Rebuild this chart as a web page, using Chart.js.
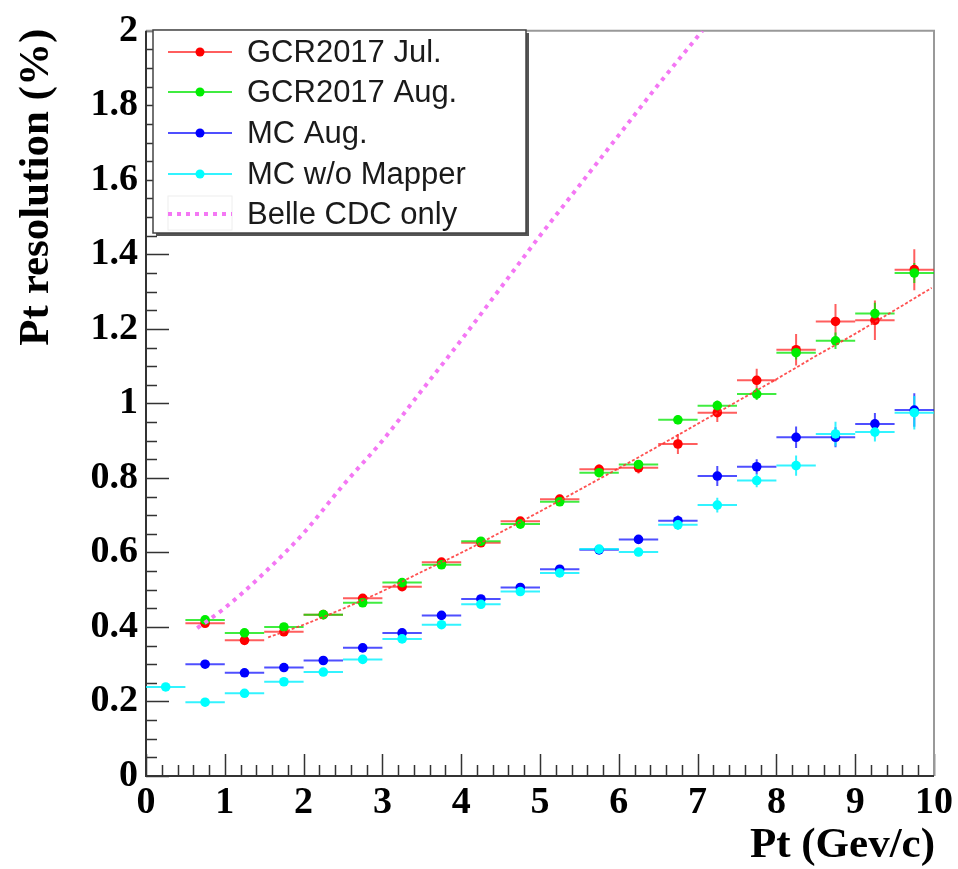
<!DOCTYPE html>
<html>
<head>
<meta charset="utf-8">
<script src="https://cdn.jsdelivr.net/npm/chart.js@4.4.1/dist/chart.umd.min.js"></script>
<style>
  html, body { margin: 0; padding: 0; background: #fff; }
  #wrap { width: 958px; height: 869px; }
</style>
</head>
<body>
<div id="wrap"><canvas id="resChart" width="958" height="869"></canvas></div>
<script>
// bin centres (GeV/c), each bin is 0.5 wide
const ptBins = [0.25, 0.75, 1.25, 1.75, 2.25, 2.75, 3.25, 3.75, 4.25, 4.75,
                5.25, 5.75, 6.25, 6.75, 7.25, 7.75, 8.25, 8.75, 9.25, 9.75];
const binHalfWidth = 0.25;

// resolution (%) per bin, null = no entry
const resJul = [null, 0.410, 0.364, 0.387, 0.433, 0.477, 0.508, 0.574, 0.626, 0.684,
                0.743, 0.823, 0.827, 0.891, 0.975, 1.062, 1.144, 1.220, 1.223, 1.359];
const errJul = [null, 0.008, 0.007, 0.007, 0.007, 0.008, 0.008, 0.009, 0.010, 0.011,
                0.012, 0.013, 0.015, 0.027, 0.025, 0.031, 0.042, 0.047, 0.053, 0.055];

const resAug = [null, 0.419, 0.384, 0.400, 0.433, 0.465, 0.519, 0.567, 0.630, 0.676,
                0.736, 0.814, 0.836, 0.956, 0.994, 1.025, 1.136, 1.168, 1.241, 1.350];
const errAug = [null, 0.005, 0.005, 0.005, 0.005, 0.006, 0.006, 0.007, 0.008, 0.008,
                0.009, 0.010, 0.011, 0.012, 0.014, 0.016, 0.018, 0.022, 0.029, 0.027];

const resMcAug = [null, 0.300, 0.277, 0.291, 0.310, 0.344, 0.384, 0.431, 0.475, 0.506,
                  0.555, 0.607, 0.635, 0.685, 0.805, 0.830, 0.909, 0.909, 0.945, 0.982];
const errMcAug = [null, 0.004, 0.004, 0.004, 0.005, 0.005, 0.006, 0.006, 0.007, 0.008,
                  0.009, 0.010, 0.011, 0.014, 0.027, 0.020, 0.029, 0.027, 0.029, 0.045];

const resMcNoMap = [0.239, 0.198, 0.222, 0.253, 0.279, 0.313, 0.368, 0.406, 0.461, 0.495,
                    0.545, 0.609, 0.601, 0.674, 0.727, 0.793, 0.833, 0.918, 0.923, 0.975];
const errMcNoMap = [0.004, 0.004, 0.004, 0.004, 0.005, 0.005, 0.006, 0.006, 0.007, 0.008,
                    0.009, 0.010, 0.011, 0.013, 0.020, 0.018, 0.027, 0.033, 0.025, 0.045];

// fit to the July data
const ptFit  = [1.55, 2.0, 2.5, 3.0, 3.5, 4.0, 4.5, 5.0, 5.5, 6.0, 6.5, 7.0, 7.5, 8.0, 8.5, 9.0, 9.5, 9.97];
const resFit = [0.372, 0.406, 0.449, 0.496, 0.548, 0.599, 0.654, 0.710, 0.768, 0.826, 0.885,
                0.945, 1.005, 1.065, 1.127, 1.187, 1.250, 1.310];

// Belle CDC reference curve
const ptBelle  = [0.65, 1.0, 1.5, 2.0, 2.5, 3.0, 3.5, 4.0, 4.5, 5.0, 5.5, 6.0, 6.5, 7.06];
const resBelle = [0.397, 0.451, 0.545, 0.652, 0.780, 0.900, 1.035, 1.170, 1.310, 1.450,
                  1.585, 1.720, 1.855, 2.0];

const xTicksMajor = [0, 1, 2, 3, 4, 5, 6, 7, 8, 9, 10];

function toPoints(xs, ys, errs) {
  const pts = [];
  xs.forEach((x, i) => {
    if (ys[i] === null) return;
    pts.push({ x: x, y: ys[i], e: errs ? errs[i] : 0 });
  });
  return pts;
}

const serif = "'Liberation Serif', 'Times New Roman', serif";
const sans = "'Liberation Sans', Arial, sans-serif";

// frame with inward ticks (5 minor per unit on x, 4 minor per 0.2 on y)
const frameTicks = {
  id: 'frameTicks',
  beforeDatasetsDraw(chart) {
    const { ctx, chartArea: a, scales: { x, y } } = chart;
    ctx.save();
    ctx.strokeStyle = '#333';
    ctx.lineWidth = 1.5;
    ctx.beginPath();
    for (let k = 0; k <= 50; k++) {
      const px = Math.round(x.getPixelForValue(k * 0.2)) + 0.5;
      const len = k % 5 === 0 ? 22 : 11;
      ctx.moveTo(px, a.bottom);
      ctx.lineTo(px, a.bottom - len);
    }
    for (let k = 0; k <= 40; k++) {
      const py = Math.round(y.getPixelForValue(k * 0.05)) + 0.5;
      const len = k % 4 === 0 ? 23 : 11;
      ctx.moveTo(a.left, py);
      ctx.lineTo(a.left + len, py);
    }
    ctx.stroke();

    ctx.lineWidth = 2;
    ctx.strokeStyle = '#999';
    ctx.beginPath();
    ctx.moveTo(a.left, a.top);
    ctx.lineTo(a.right, a.top);
    ctx.lineTo(a.right, a.bottom);
    ctx.stroke();
    ctx.strokeStyle = '#333';
    ctx.beginPath();
    ctx.moveTo(a.left, a.top);
    ctx.lineTo(a.left, a.bottom);
    ctx.lineTo(a.right, a.bottom);
    ctx.stroke();

    // error bars: bin width horizontally, stat error vertically
    chart.data.datasets.forEach(ds => {
      if (!ds.barColor) return;
      ctx.strokeStyle = ds.barColor;
      ctx.lineWidth = 2;
      ctx.beginPath();
      ds.data.forEach(p => {
        const px = x.getPixelForValue(p.x);
        const py = y.getPixelForValue(p.y);
        ctx.moveTo(x.getPixelForValue(p.x - binHalfWidth), py);
        ctx.lineTo(x.getPixelForValue(p.x + binHalfWidth), py);
        ctx.moveTo(px, y.getPixelForValue(p.y - p.e));
        ctx.lineTo(px, y.getPixelForValue(p.y + p.e));
      });
      ctx.stroke();
    });
    ctx.restore();
  }
};

// axis titles and the boxed legend
const annotations = {
  id: 'annotations',
  afterDraw(chart) {
    const { ctx, chartArea: a } = chart;
    ctx.save();
    ctx.fillStyle = '#000';
    ctx.font = 'bold 43px ' + serif;
    ctx.textAlign = 'right';
    ctx.textBaseline = 'alphabetic';
    ctx.fillText('Pt (Gev/c)', a.right + 1, 857);

    ctx.translate(48, a.top - 2);
    ctx.rotate(-Math.PI / 2);
    ctx.fillText('Pt resolution (%)', 0, 0);
    ctx.restore();

    // legend box
    const bx = 153, by = 30, bw = 373, bh = 203;
    ctx.save();
    ctx.fillStyle = '#555';
    ctx.fillRect(bx + 3, by + 3, bw, bh);
    ctx.fillStyle = '#fff';
    ctx.fillRect(bx, by, bw, bh);
    ctx.strokeStyle = '#444';
    ctx.lineWidth = 1.5;
    ctx.strokeRect(bx, by, bw, bh);

    const rowY = [52, 92, 133, 174, 214];
    const entries = chart.data.datasets.slice().sort((p, q) => p.legendRow - q.legendRow);
    ctx.font = '31px ' + sans;
    ctx.textBaseline = 'middle';
    ctx.textAlign = 'left';
    entries.forEach((ds, i) => {
      const yy = rowY[i];
      ctx.save();
      if (ds.barColor) {
        ctx.strokeStyle = ds.barColor;
        ctx.lineWidth = 2;
        ctx.beginPath();
        ctx.moveTo(168, yy);
        ctx.lineTo(232, yy);
        ctx.stroke();
        ctx.fillStyle = ds.backgroundColor;
        ctx.beginPath();
        ctx.arc(200, yy, 4.5, 0, Math.PI * 2);
        ctx.fill();
      } else {
        ctx.strokeStyle = '#eee';
        ctx.lineWidth = 1;
        ctx.strokeRect(168, yy - 18, 64, 34);
        ctx.strokeStyle = ds.borderColor;
        ctx.lineWidth = ds.borderWidth;
        ctx.setLineDash(ds.borderDash);
        ctx.beginPath();
        ctx.moveTo(168, yy);
        ctx.lineTo(232, yy);
        ctx.stroke();
      }
      ctx.restore();
      ctx.fillStyle = '#1a1a1a';
      ctx.fillText(ds.label, 247, yy + 1);
    });
    ctx.restore();
  }
};

function markerSet(label, xs, ys, errs, color, bar, row, order) {
  return {
    type: 'scatter',
    label: label,
    data: toPoints(xs, ys, errs),
    backgroundColor: color,
    borderColor: color,
    barColor: bar,
    pointRadius: 4.8,
    pointBorderWidth: 0,
    showLine: false,
    legendRow: row,
    order: order
  };
}

new Chart(document.getElementById('resChart'), {
  data: {
    datasets: [
      markerSet('GCR2017 Jul.', ptBins, resJul, errJul, '#ff0000', 'rgba(255,40,40,0.75)', 0, 6),
      markerSet('GCR2017 Aug.', ptBins, resAug, errAug, '#00ee00', 'rgba(0,230,0,0.75)', 1, 5),
      markerSet('MC Aug.', ptBins, resMcAug, errMcAug, '#0000ff', 'rgba(20,20,255,0.75)', 2, 4),
      markerSet('MC w/o Mapper', ptBins, resMcNoMap, errMcNoMap, '#00ffff', 'rgba(0,240,255,0.8)', 3, 3),
      {
        type: 'line',
        label: 'fit',
        data: toPoints(ptFit, resFit),
        borderColor: 'rgba(255,50,50,0.85)',
        borderWidth: 1.8,
        borderDash: [3, 2],
        pointRadius: 0,
        cubicInterpolationMode: 'monotone',
        legendRow: 99,
        order: 2
      },
      {
        type: 'line',
        label: 'Belle CDC only',
        data: toPoints(ptBelle, resBelle),
        borderColor: '#f477f4',
        borderWidth: 4,
        borderDash: [4, 5],
        pointRadius: 0,
        cubicInterpolationMode: 'monotone',
        legendRow: 4,
        order: 1
      }
    ]
  },
  options: {
    responsive: false,
    animation: false,
    layout: { padding: { top: 25, right: 24, left: 0, bottom: 0 } },
    plugins: { legend: { display: false }, tooltip: { enabled: false } },
    scales: {
      x: {
        type: 'linear',
        min: 0,
        max: 10,
        afterFit(s) { s.height = 93; },
        afterBuildTicks(s) { s.ticks = xTicksMajor.map(v => ({ value: v })); },
        grid: { display: false, drawTicks: false },
        border: { display: false },
        ticks: {
          color: '#000',
          padding: 4,
          maxRotation: 0,
          autoSkip: false,
          font: { family: serif, size: 38, weight: 'bold' }
        }
      },
      y: {
        type: 'linear',
        min: 0,
        max: 2,
        afterFit(s) { s.width = 146; },
        grid: { display: false, drawTicks: false },
        border: { display: false },
        ticks: {
          stepSize: 0.2,
          color: '#000',
          padding: 8,
          autoSkip: false,
          font: { family: serif, size: 38, weight: 'bold' },
          callback: v => String(+v.toFixed(1))
        }
      }
    }
  },
  plugins: [frameTicks, annotations]
});
</script>
</body>
</html>
